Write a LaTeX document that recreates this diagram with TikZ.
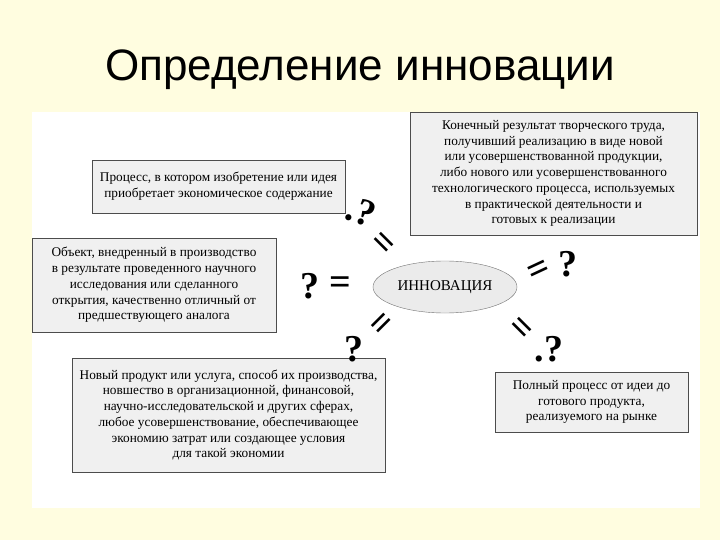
\documentclass[tikz,border=0pt]{standalone}
\usepackage{fontspec}
\setmainfont{Liberation Serif}
\newfontfamily\titlefont{Liberation Sans}
\usetikzlibrary{shapes.geometric}
\tikzset{
  box/.style={draw=black!70, line width=0.8pt, fill=black!6, align=center, font=\fontsize{13.3}{15.7}\selectfont, inner sep=0pt},
  sym/.style={font=\fontsize{38}{38}\selectfont\bfseries, inner sep=0pt},
}
\begin{document}
\begin{tikzpicture}[x=1pt,y=-1pt]
\fill[yellow!12!white] (0,0) rectangle (720,540);
\useasboundingbox (0,0) rectangle (720,540);
\fill[white] (32,112) rectangle (700,508);
\node[font=\titlefont\fontsize{44}{46}\selectfont] (title) at (360,70) {Определение инновации};
\node[box, minimum width=253pt, minimum height=53pt] (b1) at (218.5,186.5) {Процесс, в котором изобретение или идея\\приобретает экономическое содержание};
\node[box, minimum width=244pt, minimum height=94pt] (b2) at (154,285) {Объект, внедренный в производство\\в результате проведенного научного\\исследования или сделанного\\открытия, качественно отличный от\\предшествующего аналога};
\node[box, minimum width=287pt, minimum height=123pt] (b3) at (553.5,173.5) {Конечный результат творческого труда,\\получивший реализацию в виде новой\\или усовершенствованной продукции,\\либо нового или усовершенствованного\\технологического процесса, используемых\\в практической деятельности и\\готовых к реализации};
\node[box, minimum width=313pt, minimum height=114pt] (b4) at (228.5,415) {Новый продукт или услуга, способ их производства,\\новшество в организационной, финансовой,\\научно-исследовательской и других сферах,\\любое усовершенствование, обеспечивающее\\экономию затрат или создающее условия\\для такой экономии};
\node[box, minimum width=193pt, minimum height=60pt] (b5) at (591.5,402) {Полный процесс от идеи до\\готового продукта,\\реализуемого на рынке};
\node[ellipse, draw=black!55, fill=black!8, minimum width=144pt, minimum height=52pt, font=\fontsize{15}{17}\selectfont] (inn) at (445,287) {ИННОВАЦИЯ};
\node[sym] (q1) at (310,286) {?};
\node[sym] (e1) at (340,286) {=};
\node[sym, rotate=-20] (q2) at (361,212) {.?};
\node[sym, rotate=-45] (e2) at (381,245) {=};
\node[sym, rotate=45] (e3) at (384,326) {=};
\node[sym] (q3) at (354,349) {?};
\node[sym, rotate=25] (e4) at (540,272) {=};
\node[sym] (q4) at (568,264) {?};
\node[sym, rotate=-45] (e5) at (519,330) {=};
\node[sym] (q5) at (549,349) {.?};
\end{tikzpicture}
\end{document}
